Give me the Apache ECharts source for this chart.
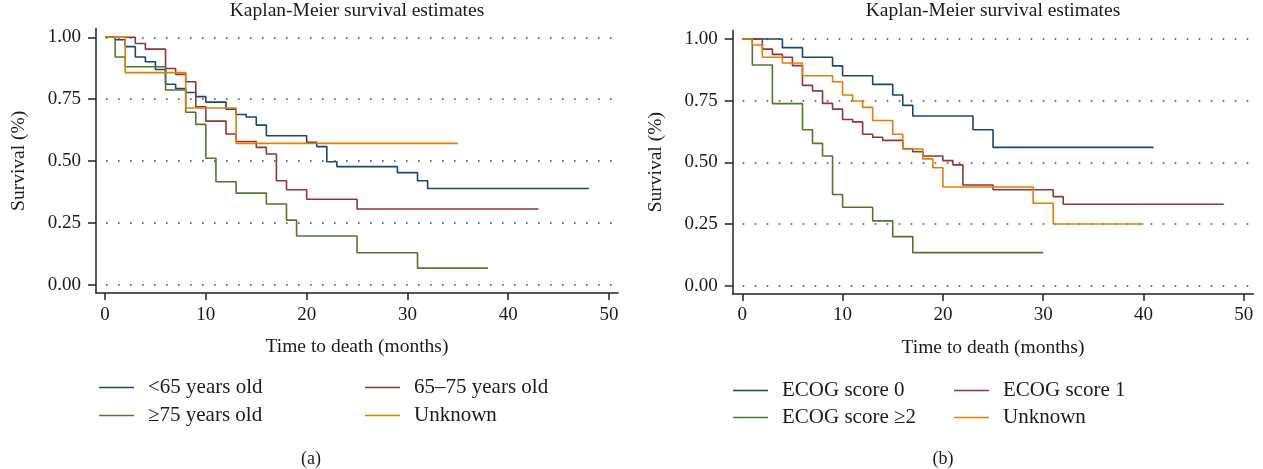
<!DOCTYPE html>
<html>
<head>
<meta charset="utf-8">
<script src="https://cdn.jsdelivr.net/npm/echarts@6/dist/echarts.min.js"></script>
<style>
html,body{margin:0;padding:0;background:#fff;}
#c{width:1263px;height:469px;}
</style>
</head>
<body>
<div id="c"></div>
<script>
// ---------- data ----------
const xTicks = [0, 10, 20, 30, 40, 50];
const yTicks = [0, 0.25, 0.5, 0.75, 1];

// Panel (a): age groups
const aNames = ['<65 years old', '65–75 years old', '≥75 years old', 'Unknown'];
const aLt65T = [0,1,2,3,4,5,6,7,8,9,10,12,13,14,15,16,20,21,22,23,29,31,32,48];
const aLt65S = [1,0.990,0.962,0.920,0.901,0.870,0.810,0.793,0.777,0.760,0.738,0.709,0.688,0.678,0.645,0.602,0.575,0.558,0.497,0.477,0.453,0.420,0.389,0.389];
const a6575T = [0,3,4,6,7,8,9,10,12,13,15,16,17,18,20,25,43];
const a6575S = [1,0.975,0.952,0.874,0.850,0.820,0.719,0.661,0.609,0.579,0.555,0.528,0.420,0.384,0.345,0.306,0.306];
const aGe75T = [0,1,2,6,8,9,10,11,13,16,18,19,25,31,38];
const aGe75S = [1,0.920,0.881,0.787,0.697,0.648,0.511,0.416,0.370,0.326,0.261,0.197,0.129,0.067,0.067];
const aUnkT = [0,2,8,13,35];
const aUnkS = [1,0.857,0.714,0.571,0.571];

// Panel (b): ECOG score
const bNames = ['ECOG score 0', 'ECOG score 1', 'ECOG score ≥2', 'Unknown'];
const bE0T = [0,4,6,9,10,13,15,16,17,23,25,41];
const bE0S = [1,0.965,0.926,0.891,0.851,0.816,0.773,0.731,0.688,0.632,0.561,0.561];
const bE1T = [0,2,3,4,5,6,7,8,9,10,11,12,13,14,16,17,18,20,21,22,25,31,32,48];
const bE1S = [1,0.959,0.938,0.926,0.892,0.812,0.790,0.739,0.716,0.674,0.664,0.614,0.602,0.589,0.555,0.543,0.526,0.507,0.490,0.408,0.389,0.361,0.330,0.330];
const bE2T = [0,1,3,6,7,8,9,10,13,15,17,30];
const bE2S = [1,0.895,0.738,0.632,0.577,0.526,0.370,0.318,0.263,0.199,0.134,0.134];
const bUnkT = [0,1,2,4,6,9,10,11,12,13,15,16,18,19,20,29,31,40];
const bUnkS = [1,0.976,0.926,0.903,0.851,0.827,0.773,0.749,0.723,0.670,0.614,0.554,0.514,0.478,0.400,0.334,0.250,0.250];

const titleText = 'Kaplan-Meier survival estimates';
const xName = 'Time to death (months)';
const yName = 'Survival (%)';
const captions = ['(a)', '(b)'];

// ---------- styling ----------
const colors = ['#1a476f', '#90353b', '#55752f', '#e37e00'];
const FONT = 'Liberation Serif';
const INK = '#1a1a1a';

function pairs(t, s) { return t.map((v, i) => [v, s[i]]); }

function makeSeries(name, t, s, color, gi) {
  return {
    type: 'line', name: name, step: 'end', showSymbol: false, symbol: 'none',
    xAxisIndex: gi, yAxisIndex: gi, data: pairs(t, s),
    lineStyle: { color: color, width: 1.6 }, itemStyle: { color: color },
    emphasis: { disabled: true }, animation: false, z: 3
  };
}

function xAxisFor(gi, min, max) {
  return {
    type: 'value', gridIndex: gi, min: min, max: max,
    name: xName, nameLocation: 'middle', nameGap: 44,
    nameTextStyle: { fontFamily: FONT, fontSize: 19.5, color: INK },
    axisLine: { show: true, onZero: false, lineStyle: { color: '#222', width: 1.5 } },
    axisTick: { show: true, length: 7, customValues: xTicks, lineStyle: { color: '#222', width: 1.5 } },
    axisLabel: { customValues: xTicks, margin: 12, fontFamily: FONT, fontSize: 19, color: INK },
    splitLine: { show: false }
  };
}
function yAxisFor(gi, min, max) {
  return {
    type: 'value', gridIndex: gi, min: min, max: max,
    name: yName, nameLocation: 'middle', nameGap: 67,
    nameTextStyle: { fontFamily: FONT, fontSize: 19.5, color: INK },
    axisLine: { show: true, onZero: false, lineStyle: { color: '#222', width: 1.5 } },
    axisTick: { show: true, length: 8, customValues: yTicks, lineStyle: { color: '#222', width: 1.5 } },
    axisLabel: { customValues: yTicks, margin: 15, fontFamily: FONT, fontSize: 19, color: INK,
      formatter: v => Number(v).toFixed(2) },
    splitLine: { show: true, lineStyle: { color: '#444', width: 1.6, type: [1.6, 10.4], dashOffset: -10 } }
  };
}

function legendItem(name, left, top) {
  return {
    data: [name], left: left, top: top, padding: 0, icon: 'rect',
    itemWidth: 35, itemHeight: 1.6, selectedMode: false,
    textStyle: { fontFamily: FONT, fontSize: 21, color: INK, padding: [0, 0, 0, 9] }
  };
}

const option = {
  backgroundColor: '#fff',
  animation: false,
  title: [
    { text: titleText, left: 357, top: 1, textAlign: 'center', padding: 0,
      textStyle: { fontFamily: FONT, fontSize: 19.5, fontWeight: 'normal', color: INK } },
    { text: titleText, left: 993, top: 1, textAlign: 'center', padding: 0,
      textStyle: { fontFamily: FONT, fontSize: 19.5, fontWeight: 'normal', color: INK } },
    { text: captions[0], left: 311, top: 450, textAlign: 'center', padding: 0,
      textStyle: { fontFamily: FONT, fontSize: 18, fontWeight: 'normal', color: INK } },
    { text: captions[1], left: 943, top: 450, textAlign: 'center', padding: 0,
      textStyle: { fontFamily: FONT, fontSize: 18, fontWeight: 'normal', color: INK } }
  ],
  grid: [
    { left: 96, right: 645, top: 28.6, bottom: 175.9, outerBoundsMode: 'none', containLabel: false },
    { left: 732.7, right: 9.7, top: 30.4, bottom: 175, outerBoundsMode: 'none', containLabel: false }
  ],
  xAxis: [xAxisFor(0, -0.9, 50.89), xAxisFor(1, -0.957, 50.95)],
  yAxis: [yAxisFor(0, -0.034, 1.035), yAxisFor(1, -0.0336, 1.035)],
  legend: [
    legendItem(aNames[0], 99, 377),
    legendItem(aNames[1], 365, 377),
    legendItem(aNames[2], 99, 405),
    legendItem(aNames[3], 365, 405),
    legendItem(bNames[0], 733, 380),
    legendItem(bNames[1], 954, 380),
    legendItem(bNames[2], 733, 407),
    legendItem(bNames[3], 954, 407)
  ],
  series: [
    makeSeries(aNames[0], aLt65T, aLt65S, colors[0], 0),
    makeSeries(aNames[1], a6575T, a6575S, colors[1], 0),
    makeSeries(aNames[2], aGe75T, aGe75S, colors[2], 0),
    makeSeries(aNames[3], aUnkT, aUnkS, colors[3], 0),
    makeSeries(bNames[0], bE0T, bE0S, colors[0], 1),
    makeSeries(bNames[1], bE1T, bE1S, colors[1], 1),
    makeSeries(bNames[2], bE2T, bE2S, colors[2], 1),
    makeSeries(bNames[3], bUnkT, bUnkS, colors[3], 1)
  ]
};

const chart = echarts.init(document.getElementById('c'), null, { renderer: 'canvas' });
chart.setOption(option);
</script>
</body>
</html>
